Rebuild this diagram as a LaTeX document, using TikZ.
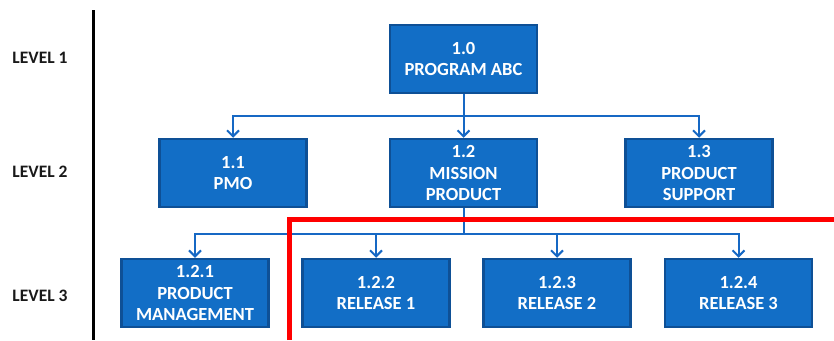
\documentclass[tikz,border=0pt]{standalone}
\usepackage{fontspec}
\setmainfont{Carlito}
\usetikzlibrary{arrows.meta}
\definecolor{boxfill}{RGB}{18,110,198}
\definecolor{boxline}{RGB}{14,80,150}
\definecolor{connc}{RGB}{22,104,196}
\begin{document}
\begin{tikzpicture}[x=1pt,y=-1pt,
  wbs/.style={draw=boxline, line width=2.5pt, fill=boxfill, text=white,
    minimum width=147pt, minimum height=68pt, inner sep=0pt, align=center,
    font=\fontsize{18.5}{21.5}\selectfont\bfseries},
  conn/.style={draw=connc, line width=2pt},
  arr/.style={conn, -{Straight Barb[length=6pt,width=12pt,line width=2pt]}},
  lvl/.style={font=\fontsize{17.5}{20}\selectfont\bfseries, text=black!90}]
\useasboundingbox (0,0) rectangle (834,340);
% level labels
\node[lvl] (l1) at (40,58) {LEVEL 1};
\node[lvl] (l2) at (40,172) {LEVEL 2};
\node[lvl] (l3) at (40,296) {LEVEL 3};
\coordinate (bt) at (93,10);
\coordinate (bb) at (93,340);
\draw[line width=3pt, black] (bt) -- (bb);
% boxes
\node[wbs] (n10) at (463.5,59) {1.0\\PROGRAM ABC};
\node[wbs] (n11) at (233,173) {1.1\\PMO};
\node[wbs] (n12) at (463.5,173) {1.2\\MISSION\\PRODUCT};
\node[wbs] (n13) at (699,173) {1.3\\PRODUCT\\SUPPORT};
\node[wbs] (n121) at (195,293) {1.2.1\\PRODUCT\\MANAGEMENT};
\node[wbs] (n122) at (376,293) {1.2.2\\RELEASE 1};
\node[wbs] (n123) at (557,293) {1.2.3\\RELEASE 2};
\node[wbs] (n124) at (738.5,293) {1.2.4\\RELEASE 3};
% connectors
\coordinate (j1) at (463.5,116);
\coordinate (j2) at (463.5,234);
\draw[conn] (n10.south) -- (j1);
\draw[arr] (j1) -| (n11.north);
\draw[arr] (j1) -| (n13.north);
\draw[arr] (j1) -- (n12.north);
\draw[conn] (n12.south) -- (j2);
\draw[arr] (j2) -| (n121.north);
\draw[arr] (j2) -| (n122.north);
\draw[arr] (j2) -| (n123.north);
\draw[arr] (j2) -| (n124.north);
% red line
\coordinate (r1) at (289,340);
\coordinate (r2) at (289,219.5);
\coordinate (r3) at (834,219.5);
\draw[red, line width=5pt] (r1) -- (r2) -- (r3);
\end{tikzpicture}
\end{document}
